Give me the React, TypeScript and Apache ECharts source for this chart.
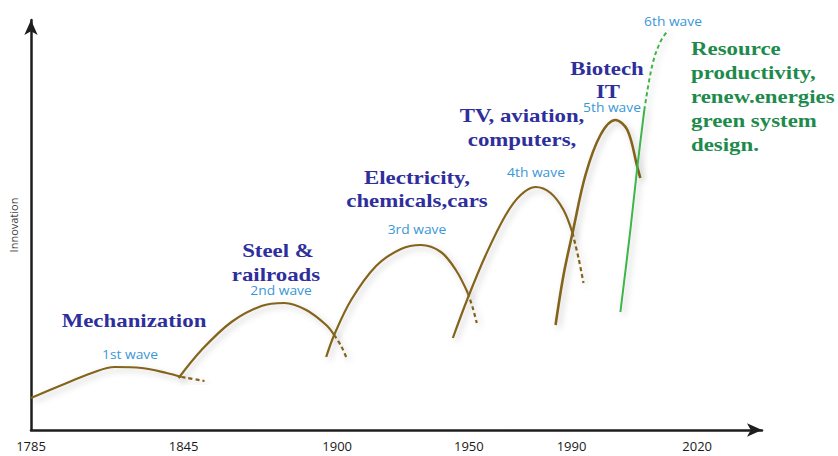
import React, { useEffect, useRef } from "react";
import * as echarts from "echarts";

// Axis positions (chart units along the time axis) and their year labels
const xTicks = [0, 153, 307, 439, 542, 668];
const yearLabels = ["1785", "1845", "1900", "1950", "1990", "2020"];

// Wave curves: [time-axis position, innovation level]
const wave1 = [[0, 32], [31, 45], [61, 57], [84, 63], [111, 62], [136, 57], [151, 53]];
const wave1Tail = [[151, 53], [174, 49]];
const wave2 = [[148, 52], [171, 80], [201, 108], [231, 124], [254, 127], [276, 120], [296, 105], [304, 95]];
const wave2Tail = [[304, 95], [311, 84], [316, 73]];
const wave3 = [[296, 73], [304, 95], [321, 130], [346, 164], [371, 181], [391, 185], [411, 178], [426, 160], [438, 137]];
const wave3Tail = [[438, 137], [443, 122], [447, 107]];
const wave4 = [[423, 92], [438, 132], [456, 175], [476, 215], [491, 235], [506, 243], [521, 237], [534, 220], [543, 197]];
const wave4Tail = [[543, 197], [549, 172], [554, 147]];
const wave5 = [[526, 105], [534, 155], [543, 197], [556, 255], [571, 295], [586, 310], [598, 300], [608, 263], [611, 252]];
const wave6 = [[591, 118], [601, 200], [608, 263], [615, 320]];
const wave6Tail = [[615, 320], [623, 365], [631, 388], [639, 400]];

const BROWN = "#84641c";
const GREEN = "#3cb54a";
const NAVY = "#2e2f9c";
const SKY = "#3a97d6";
const DARKGREEN = "#1e8a4c";

const serif = (size: number) => `bold ${size}px "Liberation Serif", "Times New Roman", serif`;
const sans = (size: number) => `${size}px "Open Sans", "Noto Sans", sans-serif`;

function makeText(text: string, x: number, y: number, font: string, fill: string, align: string, scaleX: number) {
  return {
    type: "text",
    x,
    y,
    scaleX,
    silent: true,
    style: { text, font, fill, textAlign: align, textVerticalAlign: "middle", verticalAlign: "middle" },
  };
}

const shadow = { shadowColor: "rgba(0,0,0,0.22)", shadowBlur: 6, shadowOffsetX: 3, shadowOffsetY: 3 };

function lineSeries(data: number[][], color: string, dashed: boolean, width = 2.2) {
  return {
    type: "line",
    data,
    smooth: 0.35,
    showSymbol: false,
    silent: true,
    lineStyle: { color, width, type: dashed ? [4, 3] : "solid", ...shadow },
  };
}

export default function App() {
  const ref = useRef<HTMLDivElement>(null);
  useEffect(() => {
    if (!ref.current) return;
    const chart = echarts.init(ref.current, undefined, { renderer: "svg" });
    const S = 1.27;
    chart.setOption({
      animation: false,
      backgroundColor: "#ffffff",
      grid: { left: 29, right: 76, top: 20, bottom: 26 },
      xAxis: {
        type: "value",
        min: 0,
        max: 733,
        axisLine: {
          show: true,
          symbol: ["none", "arrow"],
          symbolSize: [10, 15],
          lineStyle: { color: "#1e1e1e", width: 2.5 },
        },
        axisTick: { show: false },
        splitLine: { show: false },
        axisLabel: {
          customValues: xTicks,
          formatter: (v: number) => {
            const i = xTicks.indexOf(v);
            return i >= 0 ? yearLabels[i] : "";
          },
          color: "#1a1a1a",
          fontSize: 13,
          fontFamily: '"Open Sans", sans-serif',
          margin: 9,
        },
      },
      yAxis: {
        type: "value",
        min: 0,
        max: 410,
        name: "Innovation",
        nameLocation: "middle",
        nameRotate: 90,
        nameGap: 12,
        nameTextStyle: { color: "#444", fontSize: 11, fontFamily: '"Open Sans", sans-serif' },
        axisLine: {
          show: true,
          symbol: ["none", "arrow"],
          symbolSize: [10, 15],
          lineStyle: { color: "#1e1e1e", width: 2.5 },
        },
        axisTick: { show: false },
        axisLabel: { show: false },
        splitLine: { show: false },
      },
      series: [
        lineSeries(wave1, BROWN, false),
        lineSeries(wave1Tail, BROWN, true),
        lineSeries(wave2, BROWN, false),
        lineSeries(wave2Tail, BROWN, true),
        lineSeries(wave3, BROWN, false),
        lineSeries(wave3Tail, BROWN, true),
        lineSeries(wave4, BROWN, false),
        lineSeries(wave4Tail, BROWN, true),
        lineSeries(wave5, BROWN, false, 2.6),
        lineSeries(wave6, GREEN, false, 2),
        lineSeries(wave6Tail, GREEN, true, 2),
      ],
      graphic: [
        makeText("Mechanization", 134, 321, serif(18), NAVY, "center", S),
        makeText("1st wave", 130, 354, sans(12), SKY, "center", 1.15),
        makeText("Steel &", 278, 251, serif(18), NAVY, "center", S),
        makeText("railroads", 276, 275, serif(18), NAVY, "center", S),
        makeText("2nd wave", 281, 290, sans(12), SKY, "center", 1.15),
        makeText("Electricity,", 417, 178, serif(18), NAVY, "center", S),
        makeText("chemicals,cars", 417, 201, serif(18), NAVY, "center", S),
        makeText("3rd wave", 417, 229, sans(12), SKY, "center", 1.15),
        makeText("TV, aviation,", 522, 116, serif(18), NAVY, "center", S),
        makeText("computers,", 522, 140, serif(18), NAVY, "center", S),
        makeText("4th wave", 536, 172, sans(12), SKY, "center", 1.15),
        makeText("Biotech", 607, 69, serif(18), NAVY, "center", S),
        makeText("IT", 608, 92, serif(18), NAVY, "center", S),
        makeText("5th wave", 612, 107, sans(12), SKY, "center", 1.15),
        makeText("6th wave", 673, 21, sans(12), SKY, "center", 1.15),
        makeText("Resource", 691, 49, serif(18), DARKGREEN, "left", S),
        makeText("productivity,", 691, 73, serif(18), DARKGREEN, "left", S),
        makeText("renew.energies", 691, 97, serif(18), DARKGREEN, "left", S),
        makeText("green system", 691, 121, serif(18), DARKGREEN, "left", S),
        makeText("design.", 691, 145, serif(18), DARKGREEN, "left", S),
      ],
    });
    return () => chart.dispose();
  }, []);
  return <div ref={ref} style={{ width: 838, height: 456, position: "absolute", left: 0, top: 0 }} />;
}
